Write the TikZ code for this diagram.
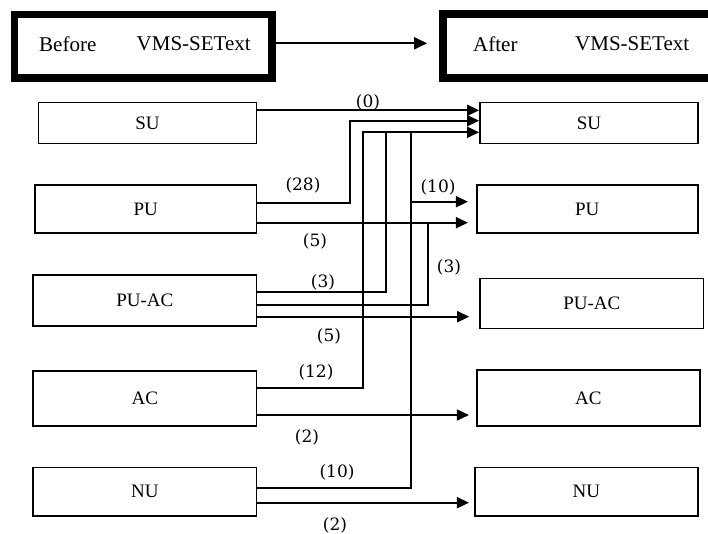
\documentclass[tikz,border=0pt]{standalone}
\usepackage{fontspec}
\setmainfont{Liberation Serif}
\newfontfamily\labfont{DejaVu Serif}
\usetikzlibrary{arrows.meta}
\begin{document}
\begin{tikzpicture}[x=1pt,y=-1pt,
  box/.style={draw,line width=1.7pt,inner sep=0pt,font=\fontsize{19}{21}\selectfont},
  bigbox/.style={draw,line width=7.7pt,inner sep=0pt},
  thickline/.style={line width=7.7pt},
  toptext/.style={inner sep=0pt,anchor=west,font=\fontsize{21}{24}\selectfont},
  conn/.style={line width=1.7pt},
  arr/.style={line width=1.7pt,-{Triangle[length=12pt,width=11pt]}},
  lab/.style={inner sep=0pt,font=\labfont\fontsize{17}{19}\selectfont}]
\useasboundingbox (0,0) rectangle (708,533);
\clip (0,0) rectangle (708,533);
\fill[white] (0,0) rectangle (708,533);
% top boxes
\node[bigbox,minimum width=257.5pt,minimum height=63.5pt] (before) at (143.25,46.25) {};
\node[inner sep=0pt,minimum width=300pt,minimum height=63.5pt] (after) at (593.3,46.25) {};
\draw[thickline] ([xshift=60pt]after.north east) -- (after.north west) -- (after.south west) -- ([xshift=60pt]after.south east);
\node[toptext] (beforet) at (39,44) {Before};
\node[toptext] (beforev) at (136.5,44) {VMS-SEText};
\node[toptext] (aftert) at (473,44) {After};
\node[toptext] (afterv) at (575,44) {VMS-SEText};
\draw[line width=1.8pt,-{Triangle[length=13pt,width=12pt]}] (before.east |- 0,43.3) -- ([xshift=-16pt]after.west |- 0,43.3);
% left boxes
\node[box,minimum width=218pt,minimum height=41pt] (lSU) at (147.5,123) {SU};
\node[box,minimum width=221.5pt,minimum height=48pt] (lPU) at (145.8,209.2) {PU};
\node[box,minimum width=223.5pt,minimum height=51pt] (lPUAC) at (144.8,300.5) {PU-AC};
\node[box,minimum width=223.5pt,minimum height=55pt] (lAC) at (144.8,398.3) {AC};
\node[box,minimum width=223.5pt,minimum height=48.5pt] (lNU) at (144.8,491.7) {NU};
% right boxes
\node[box,minimum width=218pt,minimum height=41pt] (rSU) at (589,123) {SU};
\node[box,minimum width=221pt,minimum height=48pt] (rPU) at (587.3,209.2) {PU};
\node[box,minimum width=223.5pt,minimum height=50pt] (rPUAC) at (591.8,303.5) {PU-AC};
\node[box,minimum width=223pt,minimum height=56pt] (rAC) at (588.3,398) {AC};
\node[box,minimum width=223pt,minimum height=48.5pt] (rNU) at (586.3,491.7) {NU};
% junction coordinates
\coordinate (j28) at (350,203.3);
\coordinate (j12) at (363,388.3);
\coordinate (j3a) at (386,291.7);
\coordinate (j10) at (410.7,488.3);
\coordinate (jb10) at (410.7,201.7);
\coordinate (j3b) at (428.3,305);
% connectors to SU
\draw[arr] (lSU.east |- 0,110.3) -- (rSU.west |- 0,110.3);
\draw[arr] (lPU.east |- j28) -- (j28) |- (rSU.west |- 0,120.7);
\draw[arr] (lAC.east |- j12) -- (j12) |- (rSU.west |- 0,132.3);
\draw[conn] (lPUAC.east |- j3a) -- (j3a) -- (j3a |- 0,132.3);
\draw[conn] (lNU.east |- j10) -- (j10) -- (j10 |- 0,132.3);
% connectors to PU
\draw[arr] (jb10) -- ([xshift=-8pt]rPU.west |- jb10);
\draw[arr] (lPU.east |- 0,222.7) -- ([xshift=-8pt]rPU.west |- 0,222.7);
\draw[conn] (lPUAC.east |- j3b) -- (j3b) -- (j3b |- 0,222.7);
% others
\draw[arr] (lPUAC.east |- 0,316.7) -- ([xshift=-10pt]rPUAC.west |- 0,316.7);
\draw[arr] (lAC.east |- 0,415) -- ([xshift=-7pt]rAC.west |- 0,415);
\draw[arr] (lNU.east |- 0,502.7) -- ([xshift=-5pt]rNU.west |- 0,502.7);
% labels
\node[lab] (l0) at (368,102.5) {(0)};
\node[lab] (l28) at (303,185) {(28)};
\node[lab] (l10a) at (438,187) {(10)};
\node[lab] (l5a) at (315,241) {(5)};
\node[lab] (l3a) at (323,282) {(3)};
\node[lab] (l3b) at (449,267) {(3)};
\node[lab] (l5b) at (329,336) {(5)};
\node[lab] (l12) at (316,372.5) {(12)};
\node[lab] (l2a) at (307,437) {(2)};
\node[lab] (l10b) at (337,472) {(10)};
\node[lab] (l2b) at (335,525) {(2)};
\end{tikzpicture}
\end{document}
